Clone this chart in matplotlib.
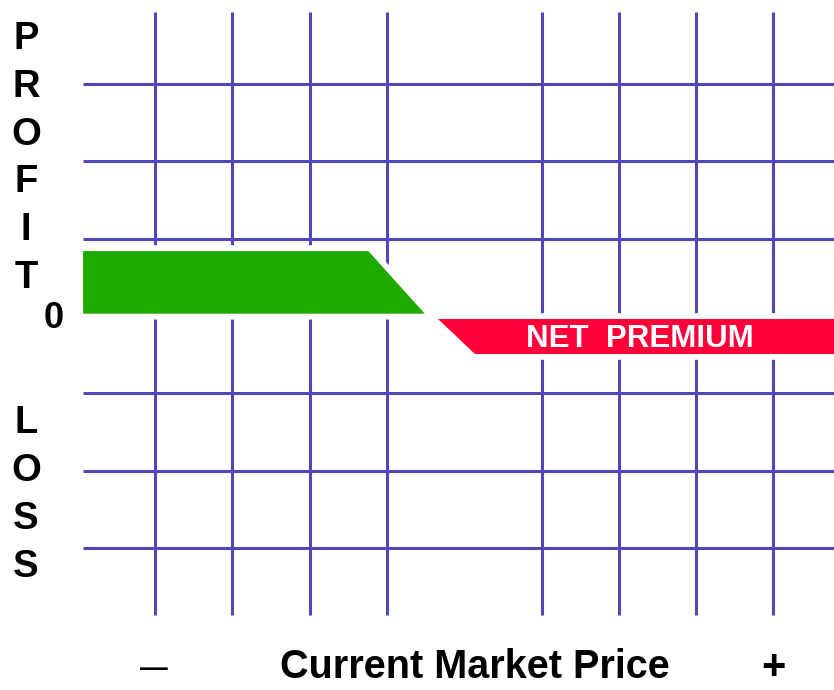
## Imports required libraries.
import matplotlib
matplotlib.use('Agg')
import matplotlib.pyplot as plt


## Grid positions (price steps and profit/loss levels, one unit per grid cell).
price_lines = [1, 2, 3, 4, 6, 7, 8, 9]      # the line at price 5 is absent in the picture
level_lines = [3, 2, 1, -1, -2, -3]

## Profit region (green) and net premium loss region (red).
profit_x = [0.07, 3.76, 4.49, 0.07]
profit_y = [0.84, 0.84, 0.03, 0.03]
loss_x   = [4.66, 10.5, 10.5, 5.14]
loss_y   = [-0.04, -0.04, -0.49, -0.49]

## Axis labels.
profit_letters = ['P', 'R', 'O', 'F', 'I', 'T']
loss_letters   = ['L', 'O', 'S', 'S']
x_label        = 'Current Market Price'
band_label     = 'NET  PREMIUM'

grid_col  = '#5048B8'
green_col = '#1EAA00'
red_col   = '#FF0038'

W, H = 834, 690
fig = plt.figure(figsize=(W / 100, H / 100), dpi=100)
ax = fig.add_axes([0, 0, 1, 1])

## Data limits chosen so that one grid unit is about 77 px.
ax.set_xlim((0 - 155) / 77.3 + 1, (W - 155) / 77.3 + 1)
ax.set_ylim((316 - H) / 77.3, 316 / 77.3)
ax.axis('off')

## Grid.
ax.vlines(price_lines, -3.87, 3.93, colors=grid_col, lw=2.2, zorder=1)
ax.hlines(level_lines, 0.07, 10.5, colors=grid_col, lw=2.2, zorder=1)

## White halo to cut the grid around the bands, then the bands.
ax.fill(profit_x, profit_y, facecolor='none', edgecolor='white', lw=8.5, joinstyle='miter', zorder=2)
ax.fill(loss_x, loss_y, facecolor='none', edgecolor='white', lw=8.5, joinstyle='miter', zorder=2)
ax.fill(profit_x, profit_y, facecolor=green_col, edgecolor='none', zorder=3)
ax.fill(loss_x, loss_y, facecolor=red_col, edgecolor='none', zorder=3)

ax.text(7.27, -0.3, band_label, color='white', fontsize=22.5, fontweight='bold',
        family='Liberation Sans', ha='center', va='center', zorder=4)


## Text helper in pixel coordinates.
def ptext(px, py, s, size, **kw):
    fig.text(px / W, 1 - py / H, s, fontsize=size, fontweight='bold',
             family='Liberation Sans', ha='center', va='center', **kw)


for k, ch in enumerate(profit_letters):
    ptext(26, 39 + k * 47.8, ch, 27.5)
for k, ch in enumerate(loss_letters):
    ptext(26, 423 + k * 48, ch, 27.5)

ptext(54, 318, '0', 26)
ptext(154, 669, '\u2014', 20)
ptext(475, 667, x_label, 28.5)
ptext(773, 668, '+', 30)

plt.savefig('out.png', dpi=100)
